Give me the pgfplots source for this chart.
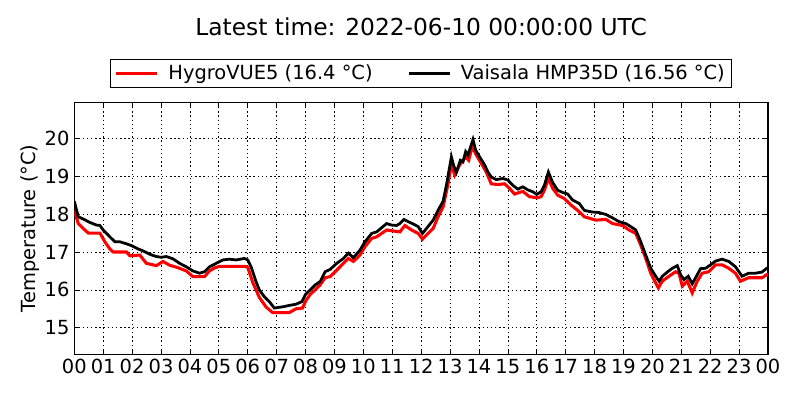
\documentclass[border=0pt]{standalone}
\usepackage{fontspec}
\setmainfont{DejaVu Sans}
\usepackage{pgfplots}
\pgfplotsset{compat=1.18}
\begin{document}
\begin{tikzpicture}
\path[use as bounding box] (-53.5pt,-32.9pt) rectangle (522.54pt,255.1pt);
\begin{axis}[
  at={(0pt,0pt)}, anchor=south west,
  scale only axis, width=499.5pt, height=181.4pt,
  xmin=0, xmax=24, ymin=14.3, ymax=20.95,
  xtick={0,1,...,24},
  xticklabels={00,01,02,03,04,05,06,07,08,09,10,11,12,13,14,15,16,17,18,19,20,21,22,23,00},
  ytick={15,16,17,18,19,20},
  /pgf/number format/assume math mode=true,
  tick label style={font=\fontsize{14}{16}\selectfont},
  grid=major,
  grid style={black, line width=0.5pt, dash pattern=on 1pt off 2pt},
  axis line style={line width=1pt},
  major tick length=4pt,
  tick style={black, line width=0.5pt},
  tick align=inside,
  ylabel={Temperature (°C)},
  ylabel style={at={(axis description cs:-0.0639,0.5)}, anchor=center, font=\fontsize{14}{16}\selectfont},
  title={Latest time: 2022-06-10 00:00:00 UTC},
  title style={at={(0.5,1.267)}, anchor=center, font=\fontsize{16.8}{19}\selectfont},
  legend columns=2,
  legend style={at={(0.5,1.114)}, anchor=center, draw=black, line width=0.8pt,
    font=\fontsize{14}{16}\selectfont,
    /tikz/every even column/.append style={column sep=23pt},
    /tikz/every odd column/.append style={column sep=5pt}},
  legend image code/.code={\draw[#1] (0pt,0pt) -- (29.5pt,0pt);},
]
\addplot[red, line width=2.2pt] coordinates {
(0,18.10)(0.138,17.75)(0.31,17.62)(0.483,17.50)(0.885,17.50)(1.057,17.27)(1.23,17.08)(1.345,17.00)(1.805,17.00)(1.92,16.90)(2.264,16.92)(2.494,16.70)(2.839,16.64)(3.069,16.75)(3.299,16.65)(3.529,16.60)(3.874,16.50)(4.103,16.35)(4.506,16.35)(4.678,16.50)(4.851,16.58)(5.023,16.62)(5.885,16.62)(6.0,16.60)(6.172,16.20)(6.402,15.80)(6.632,15.55)(6.862,15.40)(7.437,15.40)(7.667,15.50)(7.897,15.52)(8.0,15.70)(8.161,15.88)(8.333,16.00)(8.506,16.13)(8.678,16.32)(8.851,16.35)(9.08,16.52)(9.31,16.70)(9.483,16.83)(9.655,16.75)(9.885,16.92)(10.057,17.14)(10.287,17.36)(10.46,17.40)(10.632,17.49)(10.805,17.58)(11.264,17.53)(11.437,17.70)(11.667,17.58)(11.897,17.49)(12.046,17.34)(12.184,17.45)(12.414,17.62)(12.586,17.93)(12.759,18.19)(12.931,18.80)(13.046,19.30)(13.161,19.03)(13.333,19.30)(13.54,19.51)(13.644,19.42)(13.77,19.78)(13.908,19.56)(14.08,19.34)(14.253,19.11)(14.425,18.80)(14.655,18.78)(14.885,18.80)(15.057,18.68)(15.23,18.53)(15.517,18.60)(15.747,18.46)(16.034,18.43)(16.149,18.46)(16.264,18.63)(16.402,18.94)(16.552,18.68)(16.724,18.50)(16.954,18.41)(17.184,18.24)(17.414,18.10)(17.644,17.93)(18.046,17.84)(18.391,17.86)(18.621,17.75)(18.966,17.70)(19.195,17.58)(19.425,17.49)(19.598,17.18)(19.77,16.83)(19.943,16.44)(20.115,16.18)(20.207,16.05)(20.345,16.23)(20.575,16.36)(20.805,16.48)(20.92,16.44)(21.034,16.10)(21.207,16.23)(21.379,15.92)(21.552,16.23)(21.724,16.44)(21.954,16.48)(22.184,16.66)(22.414,16.66)(22.644,16.57)(22.874,16.44)(23.046,16.23)(23.333,16.32)(23.793,16.32)(23.954,16.40)(24,16.40)
};
\addlegendentry{HygroVUE5 (16.4 °C)}
\addplot[black, line width=2pt] coordinates {
(0,18.34)(0.138,17.93)(0.31,17.87)(0.54,17.78)(0.77,17.71)(0.885,17.70)(1.0,17.58)(1.23,17.40)(1.402,17.27)(1.575,17.27)(1.747,17.23)(1.977,17.17)(2.207,17.08)(2.379,17.03)(2.609,16.94)(2.839,16.88)(3.011,16.86)(3.184,16.88)(3.414,16.82)(3.644,16.70)(3.874,16.61)(4.103,16.50)(4.333,16.44)(4.506,16.48)(4.678,16.61)(4.908,16.70)(5.138,16.79)(5.368,16.81)(5.598,16.79)(5.885,16.83)(6.0,16.79)(6.115,16.61)(6.287,16.22)(6.402,16.0)(6.575,15.82)(6.747,15.69)(6.92,15.52)(7.092,15.54)(7.264,15.56)(7.437,15.59)(7.667,15.62)(7.874,15.69)(8.0,15.88)(8.161,16.0)(8.333,16.13)(8.506,16.22)(8.678,16.48)(8.851,16.54)(9.08,16.70)(9.31,16.83)(9.483,16.97)(9.655,16.85)(9.885,17.05)(10.057,17.27)(10.287,17.49)(10.46,17.53)(10.632,17.64)(10.805,17.75)(10.977,17.71)(11.149,17.70)(11.264,17.75)(11.402,17.86)(11.552,17.80)(11.724,17.74)(11.897,17.67)(12.046,17.49)(12.184,17.62)(12.414,17.84)(12.586,18.10)(12.759,18.34)(12.874,18.76)(13.046,19.51)(13.126,19.28)(13.218,19.10)(13.356,19.42)(13.448,19.38)(13.54,19.65)(13.621,19.56)(13.713,19.78)(13.793,19.97)(13.885,19.69)(14.023,19.51)(14.195,19.30)(14.31,19.11)(14.425,18.98)(14.598,18.91)(14.828,18.94)(15.0,18.90)(15.172,18.76)(15.345,18.66)(15.517,18.72)(15.69,18.64)(15.862,18.59)(16.0,18.52)(16.149,18.59)(16.264,18.76)(16.402,19.11)(16.552,18.83)(16.724,18.63)(16.897,18.57)(17.069,18.53)(17.241,18.37)(17.471,18.28)(17.644,18.10)(17.874,18.06)(18.161,18.04)(18.391,17.99)(18.621,17.90)(18.851,17.80)(19.08,17.75)(19.253,17.67)(19.425,17.58)(19.598,17.27)(19.77,16.92)(19.943,16.57)(20.115,16.36)(20.23,16.23)(20.345,16.36)(20.517,16.47)(20.69,16.57)(20.862,16.64)(20.977,16.40)(21.092,16.27)(21.241,16.36)(21.379,16.16)(21.552,16.40)(21.667,16.56)(21.839,16.57)(22.011,16.66)(22.184,16.76)(22.414,16.81)(22.644,16.75)(22.874,16.61)(23.103,16.36)(23.333,16.44)(23.563,16.44)(23.793,16.47)(23.954,16.57)(24,16.56)
};
\addlegendentry{Vaisala HMP35D (16.56 °C)}
\end{axis}
\end{tikzpicture}
\end{document}
